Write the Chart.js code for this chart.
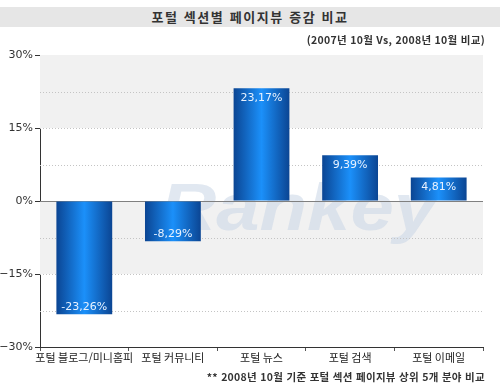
<!DOCTYPE html>
<html lang="ko">
<head>
    <meta charset="UTF-8">
    <title>포털 섹션별 페이지뷰 증감 비교</title>
    <style>
        body {
            margin: 0;
            background: #fff;
            font-family: 'Noto Sans CJK KR', 'Noto Sans', sans-serif;
        }

        .wrap {
            position: relative;
            width: 500px;
            height: 390px;
            overflow: hidden;
        }

        .title-band {
            position: absolute;
            left: 0;
            top: 7px;
            width: 500px;
            height: 20px;
            background: #e6e6e6;
            text-align: center;
            line-height: 20px;
            font-size: 13px;
            font-weight: bold;
            color: #333;
            letter-spacing: 1.6px;
        }

        .sub, .foot {
            position: absolute;
            right: 15px;
            font-size: 10.5px;
            font-weight: bold;
            color: #333;
            white-space: nowrap;
            letter-spacing: 0.3px;
        }

        .sub { top: 32px; }
        .foot { top: 369px; }

        canvas {
            position: absolute;
            left: 0;
            top: 0;
        }
    </style>
</head>
<body>

    <div class="wrap">
        <canvas id="barChart" width="500" height="390"></canvas>
        <div class="title-band">포털 섹션별 페이지뷰 증감 비교</div>
        <div class="sub">(2007년 10월 Vs, 2008년 10월 비교)</div>
        <div class="foot">** 2008년 10월 기준 포털 섹션 페이지뷰 상위 5개 분야 비교</div>
    </div>

    <script src="https://cdn.jsdelivr.net/npm/chart.js"></script>
    <script>
        // data
        const categories = ['포털 블로그/미니홈피', '포털 커뮤니티', '포털 뉴스', '포털 검색', '포털 이메일'];
        const changes = [-23.26, -8.29, 23.17, 9.39, 4.81];
        const valueLabels = ['-23,26%', '-8,29%', '23,17%', '9,39%', '4,81%'];
        const yTicks = [-30, -15, 0, 15, 30];

        const BAR_PCT = 0.63;

        // horizontal dark-bright-dark gradient, one per bar
        function barGradient(context) {
            const chart = context.chart;
            const x = chart.scales.x;
            if (!x || !chart.chartArea) return '#1466c8';
            const cx = x.getPixelForValue(context.dataIndex);
            const half = (x.width / categories.length) * BAR_PCT / 2;
            const g = chart.ctx.createLinearGradient(cx - half, 0, cx + half, 0);
            g.addColorStop(0, '#0b4593');
            g.addColorStop(0.5, '#1b90fa');
            g.addColorStop(1, '#0b4593');
            return g;
        }

        // gray bands, dotted grid, zero line and watermark behind the bars
        const backdrop = {
            id: 'backdrop',
            beforeDatasetsDraw(chart) {
                const { ctx, chartArea: a, scales: { y } } = chart;
                ctx.save();

                // alternating bands
                ctx.fillStyle = '#f1f1f1';
                [[15, 30], [-15, 0]].forEach(([lo, hi]) => {
                    const top = y.getPixelForValue(hi);
                    const bot = y.getPixelForValue(lo);
                    ctx.fillRect(a.left, top, a.right - a.left, bot - top);
                });

                // watermark
                ctx.fillStyle = 'rgba(200, 213, 230, 0.55)';
                ctx.font = 'italic bold 66px "Liberation Sans", Arial, sans-serif';
                ctx.textBaseline = 'alphabetic';
                const w = ctx.measureText('Rankey').width;
                ctx.translate(160, 230);
                ctx.scale(277 / w, 1);
                ctx.fillText('Rankey', 0, 0);
                ctx.setTransform(1, 0, 0, 1, 0, 0);

                // dotted grid lines
                ctx.strokeStyle = '#c4c4c4';
                ctx.lineWidth = 1;
                ctx.setLineDash([1, 2]);
                [-22.5, -15, -7.5, 7.5, 15, 22.5].forEach(v => {
                    const py = Math.round(y.getPixelForValue(v)) + 0.5;
                    ctx.beginPath();
                    ctx.moveTo(a.left, py);
                    ctx.lineTo(a.right, py);
                    ctx.stroke();
                });

                // zero line
                ctx.setLineDash([]);
                ctx.strokeStyle = '#808080';
                const zy = Math.round(y.getPixelForValue(0)) + 0.5;
                ctx.beginPath();
                ctx.moveTo(a.left, zy);
                ctx.lineTo(a.right, zy);
                ctx.stroke();

                ctx.restore();
            }
        };

        // white value labels inside the bars
        const valueText = {
            id: 'valueText',
            afterDatasetsDraw(chart) {
                const { ctx } = chart;
                ctx.save();
                ctx.fillStyle = '#e8f2ff';
                ctx.font = '11px "DejaVu Sans", sans-serif';
                ctx.textAlign = 'center';
                ctx.textBaseline = 'middle';
                chart.getDatasetMeta(0).data.forEach((bar, i) => {
                    const ty = changes[i] >= 0 ? bar.y + 10 : bar.y - 7;
                    ctx.fillText(valueLabels[i], bar.x, ty);
                });
                ctx.restore();
            }
        };

        new Chart(document.getElementById('barChart'), {
            type: 'bar',
            data: {
                labels: categories,
                datasets: [{
                    data: changes,
                    backgroundColor: barGradient,
                    borderWidth: 0,
                    categoryPercentage: 1,
                    barPercentage: BAR_PCT
                }]
            },
            options: {
                responsive: false,
                animation: false,
                layout: { padding: { top: 55, right: 17, left: 0, bottom: 0 } },
                plugins: {
                    legend: { display: false },
                    tooltip: { enabled: false }
                },
                scales: {
                    x: {
                        afterFit: s => { s.height = 43; },
                        grid: {
                            offset: true,
                            drawOnChartArea: false,
                            tickLength: 4,
                            tickColor: '#555'
                        },
                        border: { color: '#333', width: 1 },
                        ticks: {
                            padding: 0,
                            color: '#222',
                            font: { size: 11, family: "'Noto Sans CJK KR', sans-serif" },
                            maxRotation: 0,
                            autoSkip: false
                        }
                    },
                    y: {
                        min: -30,
                        max: 30,
                        afterFit: s => { s.width = 40; },
                        afterBuildTicks: s => {
                            s.ticks = yTicks.map(v => ({ value: v }));
                        },
                        grid: {
                            drawOnChartArea: false,
                            tickLength: 5,
                            tickColor: '#333'
                        },
                        border: { color: '#333', width: 1 },
                        ticks: {
                            padding: 2,
                            color: '#333',
                            font: { size: 11, family: "'DejaVu Sans', sans-serif" },
                            callback: v => (v < 0 ? '\u2212' + Math.abs(v) : v) + '%'
                        }
                    }
                }
            },
            plugins: [backdrop, valueText]
        });
    </script>

</body>
</html>
